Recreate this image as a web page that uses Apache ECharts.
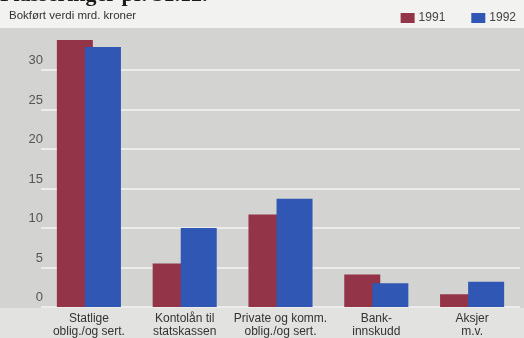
<!DOCTYPE html>
<html><head><meta charset="utf-8">
<script src="https://cdn.jsdelivr.net/npm/echarts@6/dist/echarts.min.js"></script>
<style>html,body{margin:0;padding:0;background:#f2f2f0;}#c{width:524px;height:338px;}</style>
</head><body><div id="c"></div>
<script>
const categories = ['Statlige\noblig./og sert.', 'Kontolån til\nstatskassen', 'Private og komm.\noblig./og sert.', 'Bank-\ninnskudd', 'Aksjer\nm.v.'];
const values1991 = [33.8, 5.5, 11.7, 4.1, 1.6];
const values1992 = [32.9, 10.0, 13.7, 3.0, 3.2];
const yTicks = [0, 5, 10, 15, 20, 25, 30];
const seriesNames = ['1991', '1992'];
const titleText = 'Plasseringer pr. 31.12.';
const subtitleText = 'Bokført verdi mrd. kroner';

const RED = '#943449', BLUE = '#3157b5';
const FONT = '"Liberation Sans Narrow", "Liberation Sans"';
const chart = echarts.init(document.getElementById('c'), null, {renderer: 'canvas'});
chart.setOption({
  animation: false,
  backgroundColor: 'transparent',
  graphic: [
    {type: 'rect', z: -10, shape: {x: 0, y: 28, width: 524, height: 280}, style: {fill: '#d3d3d1'}},
    {type: 'rect', z: -10, shape: {x: 0, y: 308, width: 524, height: 30}, style: {fill: '#e2e2e0'}},
    {type: 'text', left: 0, top: -16, style: {text: titleText, font: 'bold 22px "Liberation Serif"', fill: '#1a1a1a'}},
    {type: 'text', left: 9, top: 10, style: {text: subtitleText, font: '11.5px ' + FONT, fill: '#333'}}
  ],
  legend: {
    right: 3, top: 7, itemWidth: 14, itemHeight: 10, itemGap: 26,
    icon: 'rect',
    textStyle: {fontFamily: FONT, fontSize: 12, color: '#444', padding: [0,0,0,-1]},
    data: seriesNames
  },
  grid: {left: 41, right: 4, top: 70, bottom: 30},
  xAxis: {
    type: 'category', data: categories,
    axisLine: {show: false}, axisTick: {show: false},
    axisLabel: {interval: 0, margin: 5, lineHeight: 13, fontSize: 12, color: '#333', fontFamily: FONT}
  },
  yAxis: {
    type: 'value', min: 0, max: 30, interval: 5,
    axisLine: {show: false}, axisTick: {show: false},
    axisLabel: {margin: -2, fontSize: 13, color: '#555', fontFamily: '"Liberation Sans"',
      verticalAlign: 'bottom', padding: [0, 0, 3, 0],
      formatter: v => yTicks.includes(v) ? String(v) : ''},
    splitLine: {lineStyle: {color: '#f4f4f2', width: 1.5}}
  },
  series: [
    {name: seriesNames[0], type: 'bar', data: values1991, barWidth: 36, barGap: '-22%', clip: false, itemStyle: {color: RED}},
    {name: seriesNames[1], type: 'bar', data: values1992, barWidth: 36, clip: false, itemStyle: {color: BLUE}}
  ]
});
</script></body></html>
